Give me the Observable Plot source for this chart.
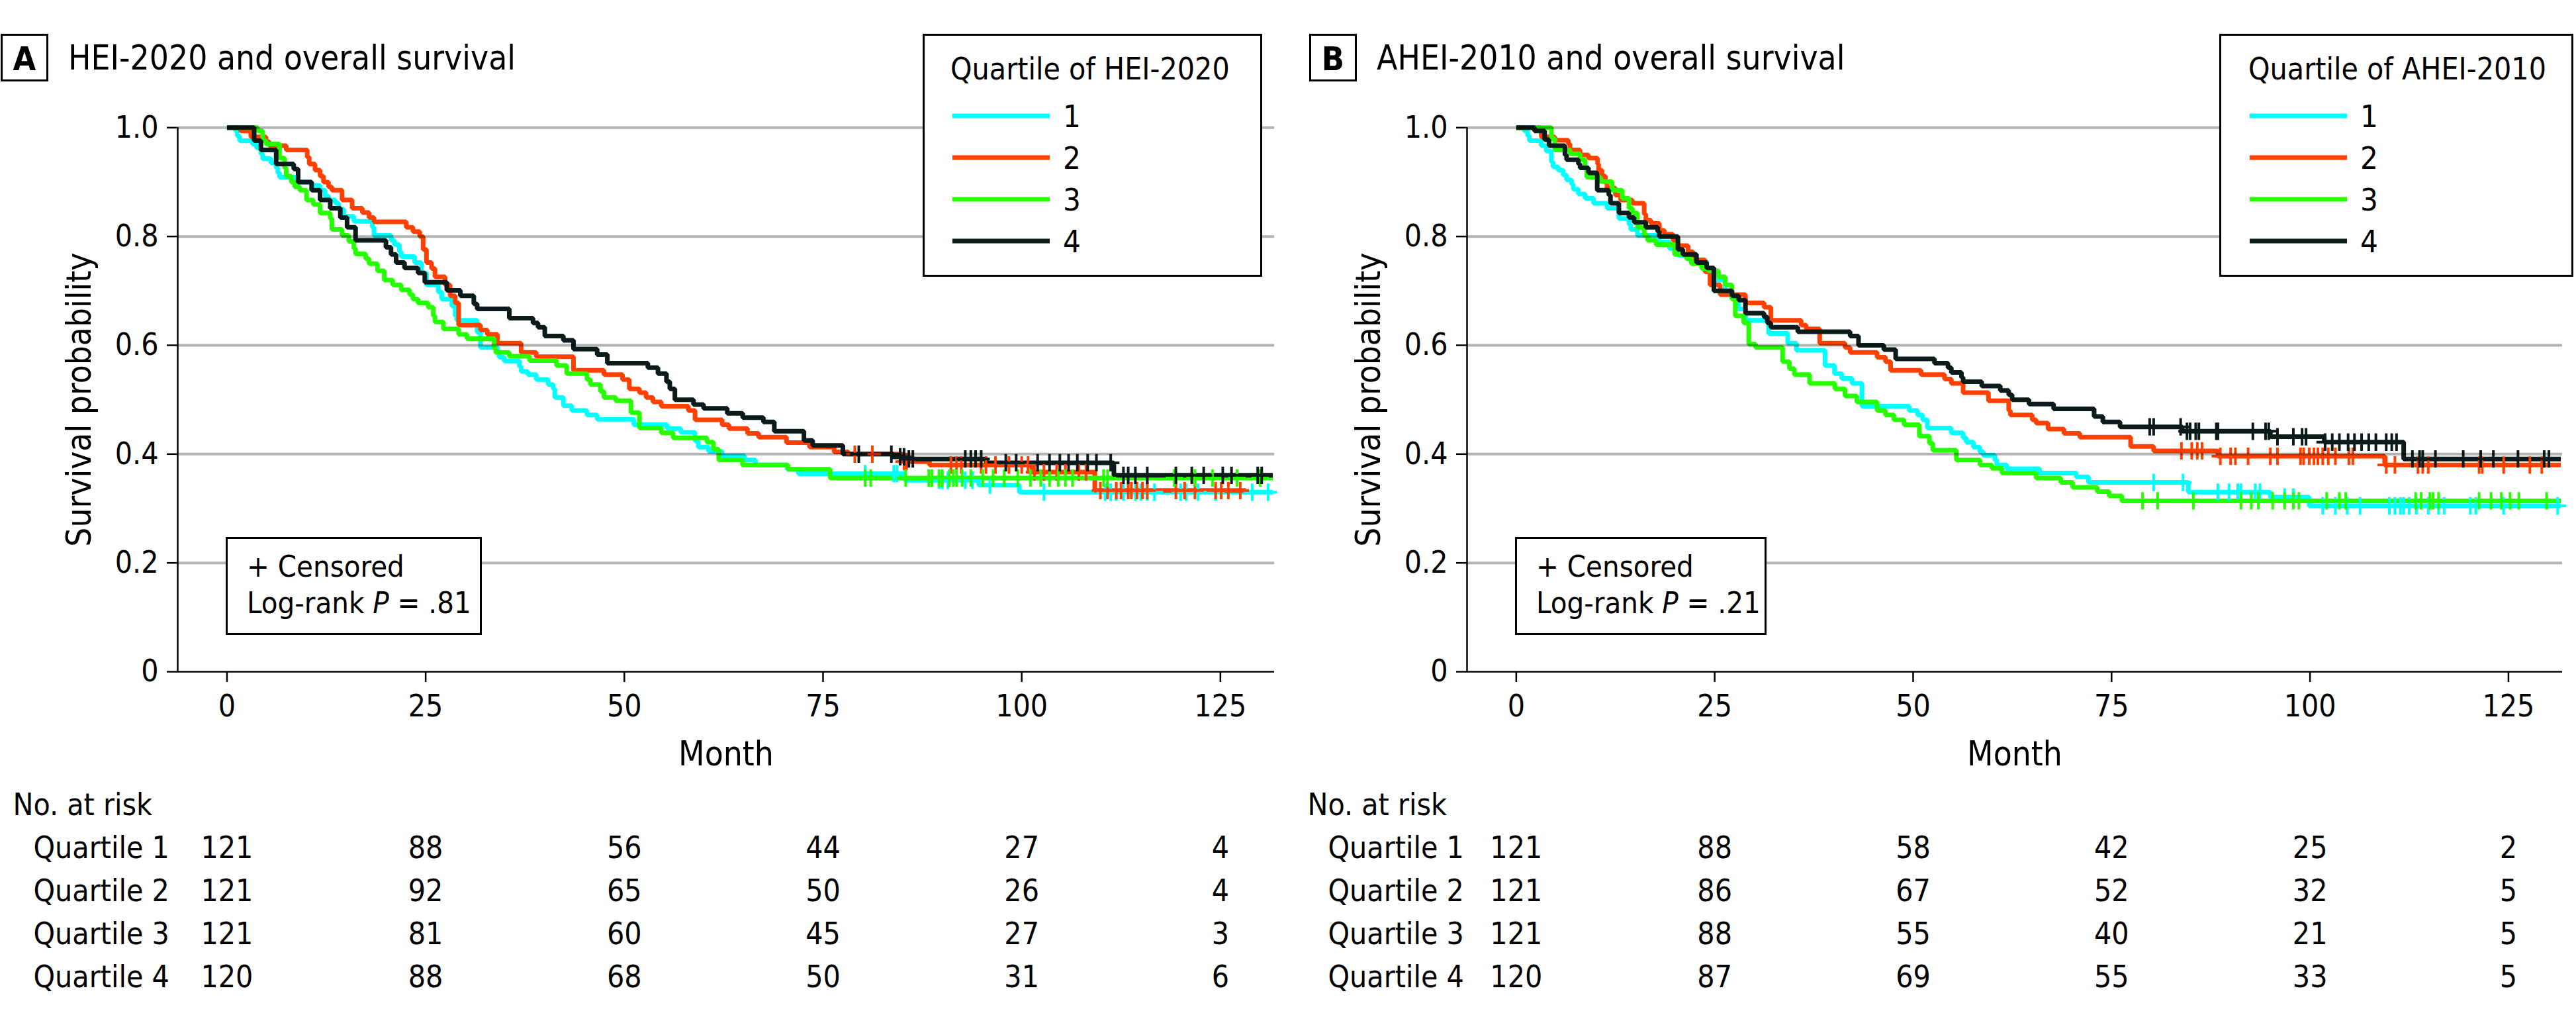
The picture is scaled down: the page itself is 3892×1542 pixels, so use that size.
<!DOCTYPE html>
<html><head><meta charset="utf-8">
<script src="https://cdn.jsdelivr.net/npm/d3@7"></script>
<script src="https://cdn.jsdelivr.net/npm/@observablehq/plot@0.6"></script>
<style>
html,body{margin:0;padding:0;background:#fff;}
body{width:3892px;height:1542px;overflow:hidden;}
.panel{position:absolute;top:0;height:1542px;}
.panel svg{position:absolute;left:0;}
svg text{font-stretch:condensed;}
</style>
</head><body>
<div id="root"></div>
<script>
const FONT = '"DejaVu Sans Condensed","Liberation Sans Narrow","Open Sans",sans-serif';
const months = [0, 25, 50, 75, 100, 125];
const yTicks = [0, 0.2, 0.4, 0.6, 0.8, 1.0];
const gridValues = [0.2, 0.4, 0.6, 0.8, 1.0];
const quartiles = ["1", "2", "3", "4"];
const colors = ["#00ffff", "#ff4000", "#26ff00", "#0b1a1a"];
const riskRowLabels = ["No. at risk", "Quartile 1", "Quartile 2", "Quartile 3", "Quartile 4"];

// ---------- Panel A: HEI-2020 ----------
const heiQ1Time = [0,1.08,1.3,1.6,3.21,3.72,4.27,4.49,5.55,6.19,6.4,6.61,8.74,10.65,11.71,12.35,12.78,13.63,14.05,14.69,15.97,18.3,18.5,20.64,21.07,21.7,21.92,23.62,24.47,25.1,26.6,27.02,28.3,28.72,28.93,31.48,31.9,34.03,34.25,34.88,36.8,37.01,37.86,38.92,40.41,41.05,41.26,42.33,43.39,45.3,46.58,51.2,55.4,57.1,58.9,59.3,60.6,62.3,65.1,66.5,70.5,71.9,85.3,94.6,99.7,131.6];
const heiQ1Surv = [1,.994,.985,.976,.970,.963,.952,.943,.935,.926,.917,.909,.900,.894,.885,.874,.867,.861,.850,.837,.828,.817,.802,.793,.785,.772,.763,.752,.733,.711,.698,.685,.672,.654,.646,.624,.596,.587,.578,.571,.561,.552,.546,.537,.528,.520,.504,.489,.480,.472,.464,.454,.447,.440,.424,.413,.405,.397,.389,.380,.372,.364,.352,.343,.330,.330];
const heiQ1Censor = [80.3,83.9,84.3,89.6,90.0,90.7,92.9,93.8,96.0,102.8,110.5,111.2,111.9,112.8,114.3,115.0,115.8,116.7,120.0,120.7,122.2,124.4,129.0,131.0];

const heiQ2Time = [0,1.72,3.0,4.91,5.34,7.46,10.1,10.35,11.08,11.71,12.14,12.78,13.2,14.48,15.75,17.03,17.88,18.5,22.56,23.4,24.26,24.68,25.1,25.74,26.17,27.44,28.08,28.72,29.15,31.9,32.76,34.03,37.01,38.92,43.6,47.43,49.77,50.62,51.9,52.74,53.6,54.65,58.06,58.9,62.3,63.16,65.5,66.9,70.4,73.3,76.4,78.2,85.0,88.4,101.3,109.2,128.2];
const heiQ2Surv = [1,.994,.983,.974,.967,.959,.946,.933,.922,.911,.900,.891,.885,.867,.852,.844,.835,.827,.817,.809,.800,.776,.752,.741,.726,.711,.691,.678,.637,.628,.620,.604,.587,.579,.554,.546,.537,.520,.513,.504,.496,.488,.480,.463,.454,.447,.438,.431,.421,.413,.404,.400,.386,.380,.367,.333,.333];
const heiQ2Censor = [79.0,81.2,85.2,85.5,91.1,91.8,92.4,94.9,95.5,96.7,98.4,100.0,100.8,101.6,102.8,104.4,105.5,107.2,108.1,109.9,110.8,111.9,112.5,113.4,113.8,114.5,115.2,115.8,119.4,120.5,121.8,124.4,125.1,126.0,127.5];

const heiQ3Time = [0,3.85,4.49,4.91,6.61,7.25,7.46,8.1,8.52,9.16,10.01,10.86,11.71,12.99,13.2,14.48,15.33,15.97,16.18,17.45,17.88,18.94,19.79,20.85,21.92,22.98,23.4,24.04,25.32,25.96,26.17,27.23,29.15,30.21,33.61,33.82,35.52,38.07,41.47,42.75,45.3,45.73,47.0,47.43,48.92,50.83,51.9,54.65,56.14,60.4,61.2,61.88,64.86,70.6,75.9,131.6];
const heiQ3Surv = [1,.994,.976,.970,.944,.926,.911,.900,.891,.885,.867,.859,.843,.833,.813,.802,.791,.778,.768,.759,.750,.737,.720,.711,.702,.693,.685,.678,.670,.654,.643,.630,.620,.612,.594,.587,.580,.572,.563,.548,.537,.528,.515,.504,.498,.476,.448,.439,.430,.422,.409,.389,.380,.372,.356,.356];
const heiQ3Censor = [80.3,81.0,85.4,88.3,88.7,89.6,90.0,90.9,91.4,91.8,92.5,93.6,95.1,96.4,97.8,99.5,101.1,102.4,103.5,104.6,105.5,106.4,110.3,110.8,119.2,121.8,124.0,127.1,130.0];

const heiQ4Time = [0,3.42,4.27,6.19,8.40,8.95,10.65,11.71,12.99,14.26,15.11,16.18,20.0,20.64,21.28,22.34,24.04,24.89,27.66,29.36,31.06,31.48,35.52,38.5,39.14,39.99,42.33,43.6,46.58,47.86,52.96,54.23,55.3,55.72,56.36,58.7,59.97,62.95,64.9,67.5,68.87,72.6,73.7,77.5,83.8,85.5,95.55,111.6,131.6];
const heiQ4Surv = [1,.976,.959,.933,.924,.900,.885,.867,.852,.835,.817,.793,.780,.767,.752,.742,.733,.716,.701,.691,.676,.667,.650,.641,.633,.617,.609,.593,.583,.567,.559,.548,.533,.520,.500,.491,.484,.475,.467,.459,.442,.425,.416,.400,.395,.391,.384,.361,.361];
const heiQ4Censor = [79.5,83.6,84.7,85.2,85.8,86.3,92.9,93.6,94.2,94.9,98.0,99.3,102.0,103.5,104.8,105.9,107.0,108.3,109.4,111.2,112.8,113.4,114.3,115.8,119.4,121.4,122.9,125.3,126.4,129.7,130.2];

const heiRiskQ1 = [121, 88, 56, 44, 27, 4];
const heiRiskQ2 = [121, 92, 65, 50, 26, 4];
const heiRiskQ3 = [121, 81, 60, 45, 27, 3];
const heiRiskQ4 = [120, 88, 68, 50, 31, 6];

// ---------- Panel B: AHEI-2010 ----------
const aheiQ1Time = [0,1.03,1.45,1.67,3.15,3.79,4.43,4.64,5.28,5.92,6.34,6.98,7.19,7.83,8.68,9.74,11.45,12.93,14.21,14.42,15.27,18.0,19.3,20.5,22.1,24.0,25.0,26.3,27.0,28.0,28.9,31.8,34.2,35.3,38.9,40.1,41.0,42.3,43.55,49.5,50.56,51.2,51.8,54.8,56.3,56.7,57.6,58.4,58.85,60.3,60.55,61.8,65.93,70.56,72.1,84.68,95.0,99.9,131.6];
const aheiQ1Surv = [1,.994,.985,.976,.967,.957,.937,.928,.922,.913,.904,.896,.887,.878,.870,.861,.852,.833,.822,.813,.802,.790,.778,.765,.754,.740,.720,.700,.689,.667,.646,.622,.604,.591,.563,.548,.539,.530,.488,.480,.472,.463,.448,.439,.430,.422,.413,.404,.398,.389,.380,.373,.365,.358,.348,.330,.321,.305,.305];
const aheiQ1Censor = [80.3,84.0,88.4,89.8,90.9,91.3,93.1,93.7,96.8,97.9,101.6,103.2,104.7,106.3,110.0,110.7,111.4,111.8,112.5,113.4,114.9,116.2,116.9,120.2,120.9,124.4,131.2];

const aheiQ2Time = [0,3.15,4.86,6.56,6.77,8.04,9.1,10.25,10.38,10.81,11.23,11.44,12.5,13.15,14.63,16.12,16.33,16.97,18.03,18.67,19.74,20.37,21.65,22.29,23.78,24.41,25.69,28.88,31.22,32.07,35.89,36.53,38.23,41.42,42.06,45.46,46.52,47.16,50.99,53.96,54.81,56.3,59.49,62.04,62.25,65.0,65.5,67.0,69.0,71.0,77.4,80.3,88.4,109.4,131.6];
const aheiQ2Surv = [1,.983,.977,.970,.959,.950,.944,.933,.922,.911,.898,.889,.876,.867,.861,.841,.830,.824,.811,.804,.793,.783,.772,.757,.735,.711,.693,.678,.670,.646,.637,.630,.604,.596,.587,.578,.570,.554,.546,.538,.530,.513,.498,.480,.472,.463,.457,.446,.438,.431,.414,.406,.396,.380,.380];
const aheiQ2Censor = [83.8,85.1,85.8,86.4,88.7,90.0,90.6,92.2,95.0,95.9,98.8,99.2,99.9,100.5,101.0,101.6,102.3,103.2,104.9,105.4,109.6,110.7,113.6,114.2,114.9,121.3,121.7,124.4,127.7,129.2];

const aheiQ3Time = [0,4.43,4.86,6.77,8.04,8.68,8.89,10.6,12.08,13.36,14.21,14.63,15.27,16.12,16.55,17.61,19.95,21.44,22.07,23.35,24.2,25.48,26.33,27.18,27.6,28.66,29.3,30.15,33.56,34.41,35.04,36.96,40.14,41.42,42.91,45.46,46.52,47.59,48.86,50.78,52.05,52.48,55.45,58.43,59.92,61.2,65.5,68.6,70.1,73.2,74.7,76.3,131.6];
const aheiQ3Surv = [1,.980,.959,.952,.941,.924,.909,.901,.885,.870,.852,.843,.817,.802,.793,.785,.767,.759,.750,.741,.737,.726,.711,.685,.654,.641,.602,.596,.570,.557,.546,.530,.520,.507,.496,.480,.472,.463,.454,.433,.420,.407,.389,.380,.374,.365,.356,.348,.339,.331,.323,.314,.314];
const aheiQ3Censor = [78.9,80.8,85.3,91.3,92.6,93.5,95.3,96.8,97.9,98.6,102.1,103.7,104.5,113.3,114.0,115.1,115.5,116.2,121.3,122.8,124.1,125.2,126.3,129.8];

const aheiQ4Time = [0,2.3,3.58,4.13,6.13,6.34,7.83,8.04,9.1,10.2,11.66,11.87,12.93,14.21,14.85,16.33,17.82,18.03,20.37,21.0,22.71,23.99,24.9,27.18,28.03,28.88,31.22,31.64,32.07,35.47,42.06,43.12,46.31,47.8,52.69,54.39,54.81,56.09,56.3,58.64,60.98,62.04,62.47,64.6,67.7,72.8,73.9,76.07,83.9,95.0,101.8,111.8,131.6];
const aheiQ4Surv = [1,.994,.978,.967,.950,.941,.933,.926,.917,.885,.876,.861,.843,.835,.826,.817,.809,.800,.776,.767,.752,.742,.700,.691,.683,.659,.652,.641,.633,.625,.617,.600,.592,.575,.567,.559,.550,.541,.533,.525,.517,.509,.500,.492,.483,.469,.459,.450,.442,.432,.422,.391,.391];
const aheiQ4Censor = [79.8,80.3,83.7,84.5,84.9,85.6,86.0,88.2,88.4,92.8,94.4,94.8,95.9,97.9,99.0,99.5,101.9,102.8,103.7,104.8,105.6,106.5,107.4,108.3,109.6,110.3,110.9,112.9,113.8,114.2,115.8,119.3,121.5,123.1,126.2,129.5,130.1];

const aheiRiskQ1 = [121, 88, 58, 42, 25, 2];
const aheiRiskQ2 = [121, 86, 67, 52, 32, 5];
const aheiRiskQ3 = [121, 88, 55, 40, 21, 5];
const aheiRiskQ4 = [120, 87, 69, 55, 33, 5];

// ---------- helpers ----------
function survAt(times, survs, t) {
  let v = survs[0];
  for (let i = 0; i < times.length; i++) { if (times[i] <= t) v = survs[i]; else break; }
  return v;
}
function buildSeries(list) {
  const lines = [], cens = [];
  list.forEach(([q, times, survs, censor]) => {
    times.forEach((t, i) => lines.push({q, t, s: survs[i]}));
    censor.forEach(t => cens.push({q, t, s: survAt(times, survs, t)}));
  });
  return {lines, cens};
}

const XDOM = [-6.2, 131.8];
const ML = 268, MR = 21;

function mainPlot(cfg) {
  const {lines, cens} = buildSeries(cfg.series);
  return Plot.plot({
    width: cfg.width, height: 1180,
    marginTop: 192.3, marginBottom: 166, marginLeft: ML, marginRight: MR,
    x: {domain: XDOM},
    y: {domain: [0, 1]},
    color: {domain: quartiles, range: colors},
    style: {fontFamily: FONT, fontSize: "46px", color: "#000", background: "transparent", overflow: "visible"},
    marks: [
      Plot.line(lines, {x: "t", y: "s", z: "q", stroke: "q", curve: "step-after", strokeWidth: 7, strokeLinejoin: "miter", strokeLinecap: "butt"}),
      Plot.dot(cens, {x: "t", y: "s", stroke: "q", symbol: "plus", r: 8.5, strokeWidth: 4}),
      Plot.ruleY(gridValues, {stroke: "#000", strokeOpacity: 0.3, strokeWidth: 4}),
      Plot.ruleX([XDOM[0]], {stroke: "#000", strokeWidth: 2.5}),
      Plot.ruleY([0], {stroke: "#000", strokeWidth: 2.5}),
      Plot.axisX({ticks: months, tickSize: 16, tickPadding: 19, label: null, strokeWidth: 2.5, fontSize: 46}),
      Plot.axisY({ticks: yTicks, tickFormat: d => d === 0 ? "0" : d.toFixed(1), tickSize: 16, tickPadding: 13, label: null, strokeWidth: 2.5, fontSize: 46}),
      Plot.text(["Month"], {frameAnchor: "bottom", lineAnchor: "bottom", dy: 141, fontSize: 51}),
      Plot.text(["Survival probability"], {frameAnchor: "left", textAnchor: "middle", lineAnchor: "middle", rotate: -90, dx: -148, fontSize: 51})
    ]
  });
}

function tablePlot(cfg) {
  const risk = [];
  cfg.risk.forEach((arr, i) => arr.forEach((n, j) => risk.push({row: riskRowLabels[i + 1], t: months[j], n})));
  return Plot.plot({
    width: cfg.width, height: 392,
    marginTop: 64.6, marginBottom: 65.4, marginLeft: ML, marginRight: MR,
    x: {domain: XDOM, axis: null},
    y: {type: "point", domain: riskRowLabels, axis: null, padding: 0},
    style: {fontFamily: FONT, fontSize: "46px", color: "#000", background: "transparent", overflow: "visible"},
    marks: [
      Plot.text(risk, {x: "t", y: "row", text: d => String(d.n), fontSize: 46}),
      Plot.text(riskRowLabels.slice(0, 1), {y: d => d, text: d => d, frameAnchor: "left", textAnchor: "start", dx: cfg.headX - ML, fontSize: 46}),
      Plot.text(riskRowLabels.slice(1), {y: d => d, text: d => d, frameAnchor: "left", textAnchor: "start", dx: cfg.rowX - ML, fontSize: 46})
    ]
  });
}

function overlay(cfg, w) {
  const svg = d3.create("svg").attr("width", w).attr("height", 1180)
    .style("position", "absolute").style("top", "0px").style("left", "0px")
    .style("font-family", FONT).style("overflow", "visible");
  svg.append("rect").attr("x", cfg.letterX + 1.5).attr("y", 52.5).attr("width", 69).attr("height", 69)
    .attr("fill", "#fff").attr("stroke", "#000").attr("stroke-width", 3);
  svg.append("text").attr("x", cfg.letterX + 36).attr("y", 106).attr("text-anchor", "middle")
    .attr("font-size", 50).attr("font-weight", "bold").text(cfg.letter);
  svg.append("text").attr("x", cfg.titleX).attr("y", 105).attr("font-size", 51).text(cfg.title);
  const L = cfg.legend;
  svg.append("rect").attr("x", L.x + 1.5).attr("y", 52.5).attr("width", L.w - 3).attr("height", 364)
    .attr("fill", "#fff").attr("stroke", "#000").attr("stroke-width", 3);
  svg.append("text").attr("x", L.titleX).attr("y", 120).attr("font-size", 46).text(cfg.legendTitle);
  quartiles.forEach((q, i) => {
    const yy = 175 + i * 63;
    svg.append("line").attr("x1", L.lineX).attr("x2", L.lineX + 147).attr("y1", yy).attr("y2", yy)
      .attr("stroke", colors[i]).attr("stroke-width", 7);
    svg.append("text").attr("x", L.lineX + 167).attr("y", yy + 17).attr("font-size", 47).text(q);
  });
  svg.append("rect").attr("x", 342.5).attr("y", 812.5).attr("width", cfg.boxW).attr("height", 145)
    .attr("fill", "#fff").attr("stroke", "#000").attr("stroke-width", 3);
  svg.append("text").attr("x", 373).attr("y", 871).attr("font-size", 45).text("+ Censored");
  const t2 = svg.append("text").attr("x", 373).attr("y", 926).attr("font-size", 45);
  t2.append("tspan").text("Log-rank ");
  t2.append("tspan").attr("font-style", "italic").text("P");
  t2.append("tspan").text(" = " + cfg.p);
  return svg.node();
}

function panel(cfg) {
  const div = document.createElement("div");
  div.className = "panel";
  div.style.left = cfg.left + "px";
  div.style.width = cfg.width + "px";
  const m = mainPlot(cfg);
  m.style.position = "absolute"; m.style.top = "0px"; m.style.left = "0px";
  div.appendChild(m);
  div.appendChild(overlay(cfg, cfg.width));
  const t = tablePlot(cfg);
  t.style.position = "absolute"; t.style.top = "1150px"; t.style.left = "0px";
  div.appendChild(t);
  document.getElementById("root").appendChild(div);
}

panel({
  left: 0, width: 1946, letter: "A", letterX: 1, titleX: 103,
  title: "HEI-2020 and overall survival", legendTitle: "Quartile of HEI-2020",
  legend: {x: 1394, w: 513, titleX: 1436, lineX: 1439}, boxW: 384, p: ".81",
  headX: 19, rowX: 50,
  series: [["1", heiQ1Time, heiQ1Surv, heiQ1Censor], ["2", heiQ2Time, heiQ2Surv, heiQ2Censor],
           ["3", heiQ3Time, heiQ3Surv, heiQ3Censor], ["4", heiQ4Time, heiQ4Surv, heiQ4Censor]],
  risk: [heiRiskQ1, heiRiskQ2, heiRiskQ3, heiRiskQ4]
});
panel({
  left: 1948, width: 1944, letter: "B", letterX: 30, titleX: 132,
  title: "AHEI-2010 and overall survival", legendTitle: "Quartile of AHEI-2010",
  legend: {x: 1405, w: 535, titleX: 1449, lineX: 1451}, boxW: 377, p: ".21",
  headX: 27, rowX: 58,
  series: [["1", aheiQ1Time, aheiQ1Surv, aheiQ1Censor], ["2", aheiQ2Time, aheiQ2Surv, aheiQ2Censor],
           ["3", aheiQ3Time, aheiQ3Surv, aheiQ3Censor], ["4", aheiQ4Time, aheiQ4Surv, aheiQ4Censor]],
  risk: [aheiRiskQ1, aheiRiskQ2, aheiRiskQ3, aheiRiskQ4]
});
</script>
</body></html>
